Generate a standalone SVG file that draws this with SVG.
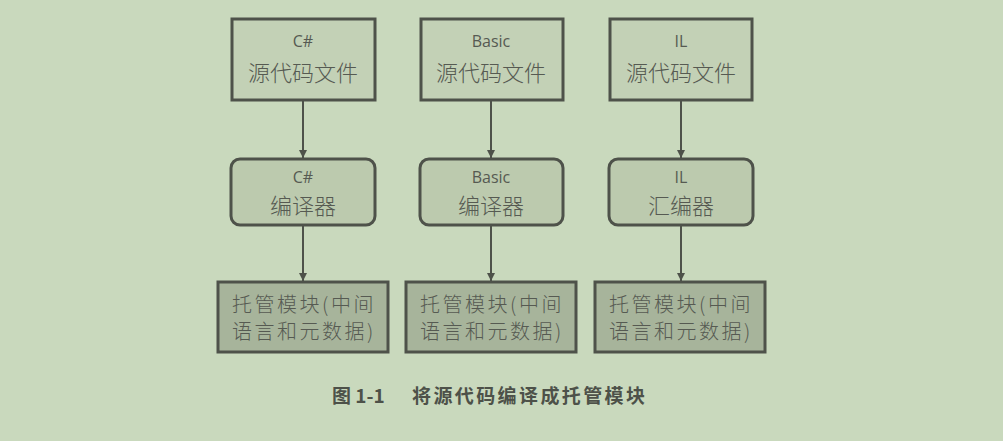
<svg xmlns="http://www.w3.org/2000/svg" width="1003" height="441" viewBox="0 0 1003 441">
<style>
.top{fill:#c3d1b6;stroke:#4e524a;stroke-width:3}
.mid{fill:#bccaae;stroke:#4e524a;stroke-width:3}
.bot{fill:#a7b49b;stroke:#4e524a;stroke-width:3}
.en{font-family:"Open Sans","Noto Sans",sans-serif;font-size:16px;fill:#565a52;text-anchor:middle}
.zh{font-family:"Noto Sans CJK SC",sans-serif;font-size:22px;font-weight:300;fill:#565a52;text-anchor:middle}
.zb{font-size:20px;letter-spacing:2.5px}
.cap{font-family:"Noto Sans CJK SC",sans-serif;font-size:19px;font-weight:bold;fill:#4d5149}
.conn{stroke:#4e524a;stroke-width:2;fill:none;marker-end:url(#ah)}
</style>
<defs>
<marker id="ah" viewBox="0 0 10 10" refX="10" refY="5" markerWidth="4" markerHeight="4" orient="auto" markerUnits="strokeWidth">
<path d="M0,0 L10,5 L0,10 z" fill="#4e524a"/>
</marker>
</defs>
<rect width="1003" height="441" fill="#c9d9bd"/>
<g id="connectors">
<line class="conn" x1="303" y1="101" x2="303" y2="158"/>
<line class="conn" x1="491" y1="101" x2="491" y2="158"/>
<line class="conn" x1="681" y1="101" x2="681" y2="158"/>
<line class="conn" x1="303" y1="226" x2="303" y2="281"/>
<line class="conn" x1="491" y1="226" x2="491" y2="281"/>
<line class="conn" x1="681" y1="226" x2="681" y2="281"/>
</g>
<g id="src-cs"><rect class="top" x="232" y="19" width="143" height="81"/><text class="en" x="303" y="47">C#</text><text class="zh" x="303" y="81">源代码文件</text></g>
<g id="src-basic"><rect class="top" x="421" y="19" width="142" height="81"/><text class="en" x="491" y="47">Basic</text><text class="zh" x="491" y="81">源代码文件</text></g>
<g id="src-il"><rect class="top" x="610" y="19" width="142" height="81"/><text class="en" x="681" y="47">IL</text><text class="zh" x="681" y="81">源代码文件</text></g>
<g id="cmp-cs"><rect class="mid" x="231" y="159" width="144" height="66" rx="9"/><text class="en" x="303" y="183">C#</text><text class="zh" x="303" y="214">编译器</text></g>
<g id="cmp-basic"><rect class="mid" x="420" y="159" width="143" height="66" rx="9"/><text class="en" x="491" y="183">Basic</text><text class="zh" x="491" y="214">编译器</text></g>
<g id="cmp-il"><rect class="mid" x="609" y="159" width="144" height="66" rx="9"/><text class="en" x="681" y="183">IL</text><text class="zh" x="681" y="214">汇编器</text></g>
<g id="mod-cs"><rect class="bot" x="218" y="282" width="170" height="70"/><text class="zh zb" x="304" y="312">托管模块(中间</text><text class="zh zb" x="304" y="339">语言和元数据)</text></g>
<g id="mod-basic"><rect class="bot" x="406" y="282" width="170" height="70"/><text class="zh zb" x="492" y="312">托管模块(中间</text><text class="zh zb" x="492" y="339">语言和元数据)</text></g>
<g id="mod-il"><rect class="bot" x="595" y="282" width="170" height="70"/><text class="zh zb" x="681" y="312">托管模块(中间</text><text class="zh zb" x="681" y="339">语言和元数据)</text></g>
<text class="cap" x="332" y="403">图 1-1</text>
<text class="cap" x="412" y="403" style="letter-spacing:2.4px">将源代码编译成托管模块</text>
</svg>
